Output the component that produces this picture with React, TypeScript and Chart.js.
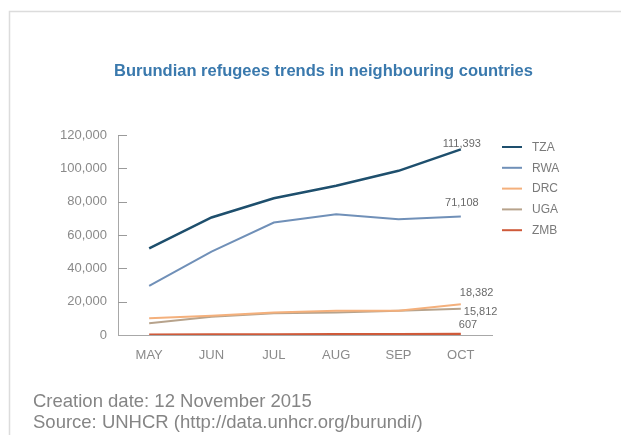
import React, { useEffect, useRef } from "react";
import { Chart, registerables } from "chart.js";

Chart.register(...registerables);

const months = ["MAY", "JUN", "JUL", "AUG", "SEP", "OCT"];
const seriesNames = ["TZA", "RWA", "DRC", "UGA", "ZMB"];
const tza = [52000, 70500, 82000, 89500, 98500, 111393];
const rwa = [29500, 50000, 67500, 72500, 69500, 71108];
const drc = [10000, 11500, 13500, 14500, 14500, 18382];
const uga = [7000, 11000, 13000, 13500, 14500, 15812];
const zmb = [150, 250, 350, 450, 520, 607];
const endLabels = ["111,393", "71,108", "18,382", "15,812", "607"];
const yTicks = [0, 20000, 40000, 60000, 80000, 100000, 120000];
const titleText = "Burundian refugees trends in neighbouring countries";
const footerLines = [
  "Creation date: 12 November 2015",
  "Source: UNHCR (http://data.unhcr.org/burundi/)",
];

const colors = ["#1e4f6d", "#7090b8", "#f4b07c", "#b7a38c", "#cf5a3a"];
const widths = [2.5, 2, 2, 2, 2.5];
// label placement offsets (dx, dy, align) relative to the last point
const labelOffsets: [number, number, CanvasTextAlign][] = [
  [1, -5, "center"],
  [1, -14, "center"],
  [-1, -11, "left"],
  [3, 3, "left"],
  [-2, -9, "left"],
];

const decorPlugin = {
  id: "decor",
  beforeDraw(chart: any) {
    const ctx = chart.ctx;
    ctx.save();
    ctx.fillStyle = "#ffffff";
    ctx.fillRect(0, 0, chart.width, chart.height);
    ctx.strokeStyle = "#dcdcdc";
    ctx.lineWidth = 1.5;
    ctx.strokeRect(9.5, 11.5, 800, 600);
    // title
    ctx.fillStyle = "#3a79ad";
    ctx.font = "bold 16.5px 'Liberation Sans', Arial, sans-serif";
    ctx.textAlign = "center";
    ctx.textBaseline = "middle";
    ctx.fillText(titleText, 323.5, 71);
    // footer
    ctx.fillStyle = "#858585";
    ctx.font = "18.5px 'Liberation Sans', Arial, sans-serif";
    ctx.textAlign = "left";
    ctx.textBaseline = "alphabetic";
    ctx.fillText(footerLines[0], 33, 407);
    ctx.fillText(footerLines[1], 33, 428);
    ctx.restore();
  },
  afterDraw(chart: any) {
    const ctx = chart.ctx;
    const y = chart.scales.y;
    const x = chart.scales.x;
    ctx.save();
    // y tick marks pointing into the plot
    ctx.strokeStyle = "#9a9a9a";
    ctx.lineWidth = 1;
    yTicks.forEach((v) => {
      if (v === 0) return;
      const py = Math.round(y.getPixelForValue(v)) + 0.5;
      ctx.beginPath();
      ctx.moveTo(chart.chartArea.left, py);
      ctx.lineTo(chart.chartArea.left + 9, py);
      ctx.stroke();
    });
    // end labels
    ctx.fillStyle = "#6a6a6a";
    ctx.font = "11px 'Liberation Sans', Arial, sans-serif";
    ctx.textBaseline = "middle";
    chart.data.datasets.forEach((ds: any, i: number) => {
      const last = ds.data.length - 1;
      const px = x.getPixelForValue(last);
      const py = y.getPixelForValue(ds.data[last]);
      const [dx, dy, al] = labelOffsets[i];
      ctx.textAlign = al;
      ctx.fillText(endLabels[i], px + dx, py + dy);
    });
    // legend
    ctx.font = "12px 'Liberation Sans', Arial, sans-serif";
    ctx.textAlign = "left";
    chart.data.datasets.forEach((ds: any, i: number) => {
      const ly = 147 + i * 20.8;
      ctx.strokeStyle = ds.borderColor;
      ctx.lineWidth = 2;
      ctx.beginPath();
      ctx.moveTo(502, ly);
      ctx.lineTo(522, ly);
      ctx.stroke();
      ctx.fillStyle = "#7a7a7a";
      ctx.fillText(ds.label, 532, ly + 0.5);
    });
    ctx.restore();
  },
};

export default function App() {
  const ref = useRef<HTMLCanvasElement>(null);
  useEffect(() => {
    document.body.style.margin = "0";
    const data = [tza, rwa, drc, uga, zmb];
    const order = [0, 1, 2, 3, 4];
    const chart = new Chart(ref.current!, {
      type: "line",
      data: {
        labels: months,
        datasets: order.map((i) => ({
          label: seriesNames[i],
          data: data[i],
          borderColor: colors[i],
          backgroundColor: colors[i],
          borderWidth: widths[i],
          pointRadius: 0,
          tension: 0,
          fill: false,
          order: i === 4 ? -1 : i,
        })),
      },
      options: {
        animation: false,
        responsive: false,
        layout: { padding: { left: 8, right: 129, top: 135, bottom: 70 } },
        plugins: { legend: { display: false }, title: { display: false }, tooltip: { enabled: false } },
        scales: {
          x: {
            offset: true,
            grid: { display: false, drawTicks: false },
            border: { display: true, color: "#a8a8a8", width: 1 },
            ticks: {
              color: "#8a8a8a",
              padding: 13,
              font: { size: 13, family: "'Liberation Sans', Arial, sans-serif" },
            },
            afterFit: (s: any) => {
              s.height = 30;
            },
          },
          y: {
            min: 0,
            max: 120000,
            afterBuildTicks: (s: any) => {
              s.ticks = yTicks.map((v) => ({ value: v }));
            },
            grid: { display: false, drawTicks: false },
            border: { display: true, color: "#a8a8a8", width: 1 },
            ticks: {
              color: "#8a8a8a",
              padding: 11,
              font: { size: 13, family: "'Liberation Sans', Arial, sans-serif" },
              callback: (v: any) => Number(v).toLocaleString("en-US"),
            },
            afterFit: (s: any) => {
              s.width = 110;
            },
          },
        },
      },
      plugins: [decorPlugin],
    });
    return () => chart.destroy();
  }, []);
  return (
    <div style={{ width: 621, height: 435 }}>
      <canvas ref={ref} width={621} height={435} style={{ display: "block" }} />
    </div>
  );
}
